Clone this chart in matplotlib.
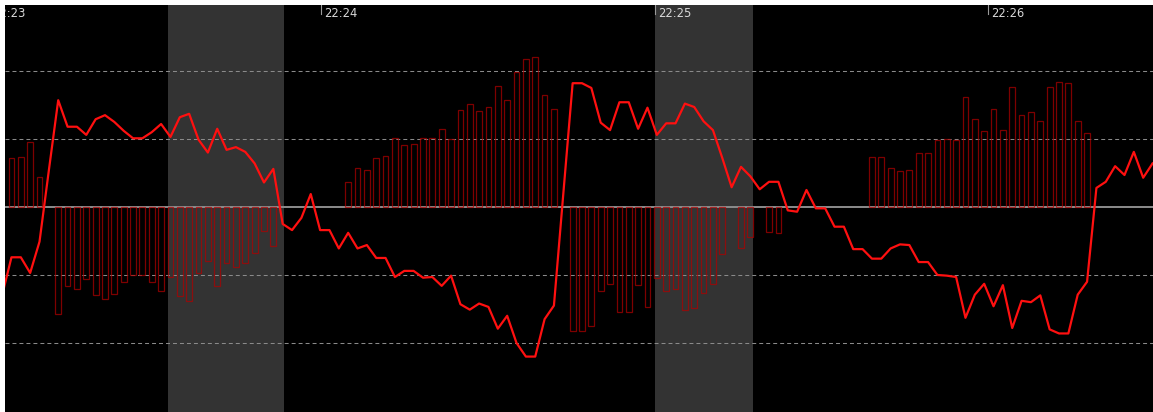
import matplotlib
matplotlib.use("Agg")
import matplotlib.pyplot as plt
import numpy as np

# sample index -1 .. 122 (one sample every ~1.7 s)
line_vals = [
    -1.30,
    -0.74, -0.74, -0.97, -0.51, 0.54, 1.57, 1.18, 1.18, 1.06, 1.29,
    1.35, 1.25, 1.12, 1.01, 1.01, 1.10, 1.22, 1.03, 1.32, 1.37,
    0.99, 0.80, 1.15, 0.84, 0.88, 0.81, 0.64, 0.36, 0.56, -0.25,
    -0.34, -0.16, 0.19, -0.34, -0.34, -0.61, -0.38, -0.61, -0.56, -0.75,
    -0.75, -1.03, -0.94, -0.94, -1.04, -1.03, -1.16, -1.01, -1.43, -1.51,
    -1.42, -1.47, -1.79, -1.60, -2.00, -2.20, -2.20, -1.65, -1.45, 0.19,
    1.82, 1.82, 1.75, 1.24, 1.13, 1.54, 1.54, 1.15, 1.46, 1.06,
    1.23, 1.23, 1.52, 1.47, 1.26, 1.13, 0.72, 0.29, 0.59, 0.45,
    0.26, 0.37, 0.37, -0.05, -0.07, 0.25, -0.02, -0.02, -0.29, -0.29,
    -0.62, -0.62, -0.76, -0.76, -0.61, -0.55, -0.56, -0.81, -0.81, -1.00,
    -1.01, -1.03, -1.63, -1.29, -1.13, -1.46, -1.15, -1.78, -1.38, -1.40,
    -1.30, -1.80, -1.86, -1.86, -1.29, -1.10, 0.28, 0.37, 0.60, 0.47,
    0.81, 0.43, 0.64,
]
line_idx = np.arange(-1, -1 + len(line_vals))

# histogram, sample index 0 .. 122 (None = no bar)
hist_vals = [
    0.72, 0.73, 0.96, 0.44, None,
    -1.57, -1.16, -1.20, -1.06, -1.29, -1.36, -1.28, -1.11, -1.00, -1.00,
    -1.11, -1.23, -1.03, -1.31, -1.38, -0.97, -0.80, -1.16, -0.83, -0.89,
    -0.82, -0.67, -0.35, -0.57,
    None, None, None, None, None, None, None,
    0.37, 0.58, 0.55, 0.72, 0.75, 1.01, 0.91, 0.93, 1.02, 1.01,
    1.14, 1.00, 1.42, 1.51, 1.41, 1.47, 1.78, 1.57, 1.98, 2.18,
    2.20, 1.64, 1.44,
    None,
    -1.83, -1.82, -1.75, -1.24, -1.13, -1.54, -1.54, -1.15, -1.47, -1.05,
    -1.23, -1.21, -1.52, -1.48, -1.26, -1.13, -0.69, None, -0.61, -0.44,
    None, -0.37, -0.39,
    None, None, None, None, None, None, None, None, None,
    0.74, 0.73, 0.58, 0.53, 0.55, 0.79, 0.79, 0.98, 1.00, 0.99,
    1.62, 1.30, 1.11, 1.44, 1.13, 1.76, 1.35, 1.39, 1.27, 1.76,
    1.84, 1.83, 1.27, 1.09,
]

# minute marks (in sample units) and shaded periods
minute_pos = [-2.48, 33.09, 68.80, 104.40]
minute_labels = ["22:23", "22:24", "22:25", "22:26"]
bands = [(16.73, 29.13), (68.80, 79.28)]

fig = plt.figure(figsize=(11.53, 4.12), dpi=100, facecolor="white")
ax = fig.add_axes([5 / 1153, 0, 1148 / 1153, 407 / 412])
ax.set_facecolor("black")
ax.set_xlim(-0.69, 122.05)
ax.set_ylim(-3.015, 2.97)

for a, b in bands:
    ax.axvspan(a, b, color="#333333", lw=0, zorder=0)

for y in [-2, -1, 1, 2]:
    ax.axhline(y, color="#8a8a8a", lw=0.75, ls=(0, (3.8, 2.9)), zorder=1)
ax.axhline(0, color="#8c8c8c", lw=1.4, zorder=2)

hx = [i for i, v in enumerate(hist_vals) if v is not None]
hy = [v for v in hist_vals if v is not None]
ax.bar(hx, hy, width=0.62, facecolor="none", edgecolor="#b00000",
       alpha=0.72, lw=0.9, zorder=3)

ax.plot(line_idx, line_vals, color="#ff1010", lw=1.6, zorder=4)

# minute ticks at the top
for p, lab in zip(minute_pos, minute_labels):
    ax.plot([p, p], [2.97, 2.84], color="#9a9a9a", lw=0.8, zorder=5, clip_on=True)
    ax.annotate(lab, xy=(p, 2.97), xytext=(2.5, -1.2), textcoords="offset points",
                ha="left", va="top", fontsize=8.3, color="#d8d8d8",
                annotation_clip=False, clip_on=True, zorder=5)

ax.set_xticks([])
ax.set_yticks([])
for s in ax.spines.values():
    s.set_visible(False)

fig.savefig("out.png", dpi=100, facecolor="white")
